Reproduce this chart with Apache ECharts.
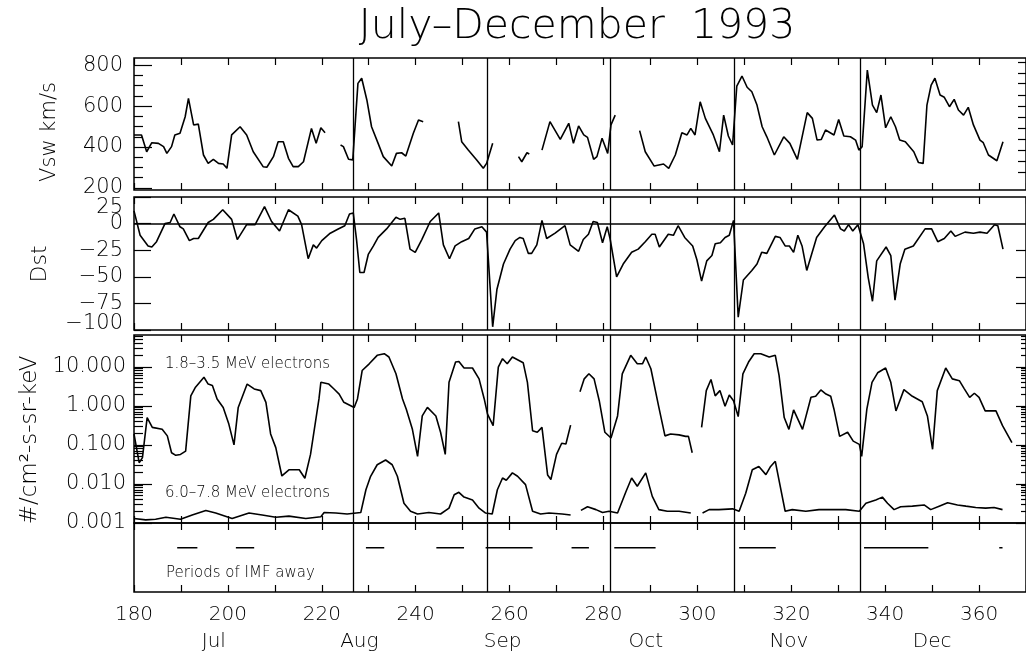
<!DOCTYPE html>
<html><head><meta charset="utf-8">
<script src="https://cdn.jsdelivr.net/npm/echarts@6/dist/echarts.min.js"></script>
<style>html,body{margin:0;padding:0;background:#fff}#c{width:1026px;height:657px}</style>
</head><body><div id="c"></div><script>
// ---------------- data (day of year 1993) ----------------
const vsw = [[180.0,459],[181.6,459],[182.7,377],[183.8,421],[185.2,418],[186.3,402],[187.0,369],[188.0,402],[188.7,459],[189.8,467],[190.9,548],[191.6,638],[192.7,508],[193.7,512],[194.8,361],[195.8,320],[196.9,340],[198.0,320],[199.0,317],[199.8,296],[200.8,459],[202.6,499],[204.0,459],[205.4,377],[207.5,304],[208.3,301],[209.7,353],[210.7,426],[211.8,426],[212.9,345],[213.9,304],[215.0,304],[216.1,328],[217.8,491],[218.8,418],[219.8,494],[220.7,470],[222,null],
[224.0,410],[224.6,402],[225.7,340],[226.6,337],[227.7,711],[228.5,736],[229.6,630],[230.6,499],[232.0,418],[233.1,353],[234.9,307],[235.9,369],[237.0,372],[237.9,356],[239.5,467],[240.6,532],[241.6,524],[245,null],
[249.1,524],[249.8,426],[251.2,385],[253.0,337],[254.4,296],[255.1,320],[256.4,418],[259,null],
[261.9,353],[262.6,328],[263.7,372],[264.2,366],[265,null],
[266.9,385],[268.6,524],[270.8,437],[272.6,516],[273.6,418],[274.7,503],[275.8,459],[276.6,447],[277.9,340],[278.6,353],[279.7,443],[280.9,369],[281.6,508],[282.5,556],[285,null],
[287.7,480],[288.9,377],[290.8,307],[292.8,317],[293.9,296],[295.3,361],[296.7,470],[297.8,459],[298.6,491],[299.5,459],[300.6,621],[301.7,540],[303.4,459],[304.7,377],[305.6,556],[306.6,454],[307.5,410],[308.4,698],[309.5,747],[310.6,692],[311.6,670],[312.7,605],[313.8,499],[314.8,450],[316.4,361],[318.4,450],[319.7,418],[321.3,340],[323.4,568],[324.5,540],[325.5,434],[326.4,437],[327.3,483],[329.1,459],[330.1,535],[331.2,454],[332.6,450],[333.7,434],[334.4,385],[335.1,402],[336.2,776],[337.3,605],[338.2,568],[339.1,654],[340.1,494],[341.2,548],[342.2,499],[343.1,434],[344.3,426],[346.1,377],[347.1,324],[348.1,320],[348.9,605],[349.8,703],[350.6,736],[351.7,654],[352.6,643],[353.7,597],[354.7,633],[355.6,581],[356.7,556],[357.7,594],[358.8,508],[360.2,434],[360.9,421],[362.0,361],[363.8,333],[365.1,426]];

const dst = [[180.0,12],[181.3,-11],[183.0,-21],[183.8,-22],[184.8,-17],[186.6,0],[187.7,1],[188.5,9],[189.8,-3],[190.5,-5],[191.8,-16],[192.7,-14],[193.7,-14],[195.8,1],[196.9,4],[198.9,13],[200.8,4],[202.0,-15],[204.0,-1],[205.8,-1],[207.8,16],[209.3,2],[211.0,-7],[212.9,13],[214.9,7],[215.7,-1],[217.1,-33],[218.2,-20],[218.9,-23],[220.0,-16],[221.8,-9],[223.5,-5],[224.9,-2],[225.9,9],[226.7,10],[227.4,-15],[228.1,-46],[229.0,-46],[229.9,-29],[231.0,-21],[232.0,-13],[233.8,-5],[235.8,6],[236.7,4],[237.7,5],[238.8,-24],[239.9,-27],[241.3,-15],[243.1,2],[244.9,10],[245.9,-20],[247.2,-33],[248.4,-21],[249.8,-17],[251.3,-14],[252.6,-5],[254.1,-3],[255.1,-8],[256.4,-97],[257.3,-62],[258.0,-50],[258.7,-38],[260.1,-24],[261.2,-16],[262.2,-13],[262.9,-14],[264.0,-28],[264.7,-28],[265.8,-20],[266.9,3],[267.9,-14],[269.7,-9],[271.8,-2],[272.9,-20],[274.7,-26],[275.7,-15],[276.8,-10],[277.8,2],[278.7,1],[279.8,-18],[280.8,-3],[281.4,-14],[282.8,-50],[284.2,-38],[286.0,-27],[287.4,-24],[288.9,-17],[290.3,-10],[291.0,-10],[291.9,-22],[293.8,-10],[294.9,-11],[295.9,-2],[297.3,-13],[299.0,-21],[299.9,-34],[300.9,-54],[302.0,-35],[303.1,-30],[303.8,-19],[304.9,-18],[305.9,-13],[306.8,-11],[307.7,3],[308.7,-88],[309.8,-53],[311.6,-44],[312.7,-38],[313.7,-27],[314.8,-28],[316.6,-12],[317.6,-13],[318.7,-21],[319.6,-21],[320.5,-27],[321.4,-11],[322.3,-21],[323.3,-44],[325.4,-13],[327.1,-3],[329.2,8],[330.5,-5],[331.3,-7],[332.2,-1],[333.1,-7],[334.2,-1],[335.4,-19],[336.4,-51],[337.3,-73],[338.2,-35],[340.2,-22],[341.2,-30],[342.1,-72],[343.2,-38],[344.2,-24],[346.0,-21],[348.5,-5],[349.9,-5],[351.2,-17],[352.6,-14],[354.0,-7],[354.9,-12],[357.0,-8],[358.8,-9],[360.2,-8],[361.7,-9],[363.3,-1],[364.0,-2],[365.1,-24]];

const flux18 = [[180.0,0.19],[181.1,0.035],[181.8,0.047],[182.8,0.50],[183.9,0.28],[186.0,0.25],[187.1,0.17],[188.0,0.063],[188.9,0.054],[189.9,0.057],[191.0,0.069],[192.1,1.8],[193.1,3.0],[194.9,5.4],[195.8,3.6],[196.7,3.3],[197.7,1.5],[199.0,0.91],[200.2,0.34],[201.3,0.10],[202.2,0.91],[204.1,3.6],[205.6,2.7],[207.0,2.45],[208.1,1.23],[209.1,0.19],[210.2,0.085],[211.5,0.016],[213.0,0.023],[214.1,0.023],[215.2,0.023],[216.4,0.014],[217.6,0.057],[219.4,1.5],[219.8,4.0],[221.5,3.6],[222.6,2.7],[223.7,2.0],[224.7,1.23],[226.9,0.91],[227.6,1.5],[228.6,8.0],[230.1,11.9],[231.8,19.6],[233.3,21.6],[234.3,17.8],[235.8,6.6],[237.2,1.5],[238.0,0.82],[239.3,0.25],[240.4,0.051],[241.4,0.55],[242.5,0.91],[244.3,0.55],[245.3,0.21],[246.3,0.057],[247.1,4.0],[248.5,13.2],[249.2,13.7],[250.3,9.3],[252.1,9.3],[253.5,4.9],[254.6,1.5],[255.3,0.61],[256.5,0.31],[257.6,9.8],[258.5,16.1],[259.5,11.9],[260.6,17.8],[262.0,14.5],[262.9,12.7],[263.8,4.0],[264.9,0.23],[265.9,0.21],[266.9,0.28],[268.1,0.017],[268.8,0.013],[270.0,0.057],[271.1,0.11],[272.0,0.105],[273.0,0.32],[274,null],
[275.0,2.3],[275.9,4.9],[276.9,6.6],[278.0,4.9],[279.1,1.35],[280.3,0.21],[281.6,0.15],[283.0,0.55],[284.0,6.6],[285.8,19.6],[287.2,11.9],[288.3,11.9],[289.0,17.8],[290.1,8.9],[291.8,0.91],[293.1,0.17],[294.3,0.19],[296.1,0.18],[297.5,0.165],[298.1,0.165],[298.9,0.063],[300,null],
[300.9,0.28],[301.9,2.45],[302.9,4.7],[303.8,1.8],[304.8,2.45],[305.9,0.97],[306.8,1.9],[307.7,1.35],[308.7,0.53],[309.7,6.6],[310.9,13.2],[312.1,21.6],[313.5,21.6],[315.3,17.8],[316.6,19.6],[317.4,6.0],[318.5,0.50],[319.5,0.25],[320.5,0.79],[322.4,0.25],[324.2,1.65],[325.2,1.75],[326.3,2.55],[327.4,2.0],[328.4,1.75],[329.1,0.82],[330.3,0.165],[332.0,0.21],[333.2,0.125],[334.5,0.103],[335.0,0.051],[336.1,0.82],[337.2,4.0],[338.4,7.0],[340.1,9.3],[341.2,4.0],[342.3,0.74],[344.0,2.6],[345.8,1.75],[347.9,1.27],[349.0,0.55],[350.1,0.077],[351.1,2.45],[352.9,9.3],[354.3,4.9],[355.8,4.4],[356.8,2.8],[358.0,1.65],[359.0,2.1],[360.0,1.65],[361.3,0.74],[363.6,0.74],[365.0,0.31],[367.0,0.114]];

const flux60 = [[180.0,0.0013],[182.5,0.0012],[184.6,0.00125],[186.8,0.0014],[189.9,0.00125],[192.4,0.0016],[195.3,0.0021],[197.4,0.0018],[200.9,0.0013],[204.5,0.0018],[207.3,0.0016],[210.2,0.0014],[213.0,0.0015],[216.6,0.0013],[219.8,0.00145],[220.5,0.00185],[223.0,0.0018],[225.4,0.0017],[228.3,0.00185],[228.6,0.002],[229.4,0.0071],[230.4,0.0157],[231.8,0.031],[233.6,0.041],[235.0,0.031],[236.1,0.0157],[237.5,0.0032],[238.9,0.002],[240.4,0.0017],[242.8,0.00185],[245.3,0.0017],[247.1,0.0024],[248.2,0.0053],[249.2,0.0061],[250.3,0.0046],[252.1,0.0039],[253.5,0.0024],[254.9,0.0018],[256.3,0.0017],[257.4,0.0071],[258.5,0.0142],[259.3,0.0124],[260.6,0.0192],[261.7,0.0157],[263.4,0.0096],[264.9,0.002],[266.6,0.0017],[268.4,0.0018],[271.2,0.0017],[273.0,0.0016],[274,null],
[275.2,0.0021],[276.6,0.0026],[278.4,0.0022],[279.8,0.00185],[281.2,0.002],[283.0,0.0018],[284.8,0.0064],[286.0,0.0142],[287.2,0.0087],[289.0,0.0192],[290.4,0.0048],[291.8,0.0022],[293.6,0.002],[296.1,0.002],[298.6,0.0018],[300,null],
[301.1,0.0018],[302.5,0.0022],[304.6,0.0022],[307.5,0.0023],[308.9,0.002],[310.3,0.0058],[311.7,0.023],[313.1,0.028],[314.6,0.0173],[315.6,0.028],[316.6,0.038],[318.7,0.002],[320.2,0.0022],[323.1,0.002],[325.9,0.0022],[328.8,0.0022],[331.6,0.0022],[334.5,0.002],[335.9,0.0032],[338.0,0.0039],[339.4,0.0046],[340.5,0.0032],[341.9,0.0022],[343.3,0.0026],[345.8,0.0027],[348.3,0.0029],[349.7,0.0022],[351.5,0.0027],[353.3,0.0033],[355.4,0.0029],[357.2,0.0027],[359.3,0.0025],[361.4,0.0024],[363.2,0.0025],[365.0,0.0022]];

const imfAway = [[189.2,193.5],[201.7,205.6],[229.4,233.3],[244.4,250.3],[254.9,264.9],[273.2,276.9],[282.3,291.1],[308.9,316.7],[335.5,349.2],[364.3,365.0]];
const rotationDays = [226.6, 255.2, 281.5, 307.8, 334.8];

const monthNames = ['Jul','Aug','Sep','Oct','Nov','Dec'];
const monthCenters = [197, 228, 258.5, 289, 319.5, 350];
const vswTicks = [200, 400, 600, 800];
const vswMinorTicks = [250, 300, 350, 450, 500, 550, 650, 700, 750];
const vswRightTicks = [275, 330, 385, 440, 490, 545, 600, 655, 710, 760, 815];
const dstTicks = [-100, -75, -50, -25, 0, 25];
const dstInnerLabels = [-75, -50, -25, 0];
const fluxTicks = [0.001, 0.01, 0.1, 1, 10];

// ---------------- chart ----------------
const FONT = "'DejaVu Sans', sans-serif";
const FW = 300;
const BLACK = '#000';
const FLUX_MAX = 65;
const IMF_Y = 0.64;
const lg = v => Math.log10(v);

const fluxMinor = [];
fluxTicks.forEach(d => { for (let k = 2; k <= 9; k++) { const v = d * k; if (v <= FLUX_MAX) fluxMinor.push(lg(v)); } });

function xAx(grid, pos, extra) {
  return Object.assign({
    type: 'value', gridIndex: grid, position: pos, min: 180, max: 370, interval: 10,
    axisLine: { show: false, onZero: false },
    axisTick: { show: true, inside: true, length: 7, lineStyle: { color: BLACK, width: 1.2 } },
    axisLabel: { show: false }, splitLine: { show: false }
  }, extra || {});
}
function yAx(grid, pos, min, max, ticks, len, label) {
  return {
    type: 'value', gridIndex: grid, position: pos, min: min, max: max,
    axisLine: { show: false, onZero: false }, splitLine: { show: false },
    axisTick: { show: len > 0, inside: true, length: len, customValues: ticks, lineStyle: { color: BLACK, width: 1.2 } },
    axisLabel: label ? Object.assign({ show: true, customValues: ticks, color: BLACK, fontFamily: FONT, fontWeight: FW, fontSize: 21, margin: 11 }, label) : { show: false }
  };
}
const vLines = (extra) => ({
  silent: true, symbol: ['none', 'none'], label: { show: false }, animation: false,
  lineStyle: { color: BLACK, width: 1.3, type: 'solid' },
  emphasis: { disabled: true },
  data: rotationDays.map(d => ({ xAxis: d })).concat(extra || [])
});
const lineStyle = { color: BLACK, width: 1.6 };

const imfData = [];
imfAway.forEach(s => { imfData.push([s[0], IMF_Y], [s[1], IMF_Y], [s[1] + 0.01, null]); });

const gridBase = { left: 134, right: 0, show: true, borderColor: BLACK, borderWidth: 1.5, backgroundColor: 'transparent', containLabel: false, outerBoundsMode: 'none' };
const dstFmt = v => v < 0 ? '\u2212' + (-v) : String(v);

const option = {
  animation: false,
  backgroundColor: '#fff',
  grid: [
    Object.assign({ top: 58, height: 132 }, gridBase),
    Object.assign({ top: 197, height: 133 }, gridBase),
    Object.assign({ top: 335, height: 188 }, gridBase),
    Object.assign({ top: 523, height: 69 }, gridBase)
  ],
  xAxis: [
    xAx(0, 'bottom'), xAx(0, 'top'),
    xAx(1, 'bottom'), xAx(1, 'top'),
    xAx(2, 'bottom'), xAx(2, 'top'),
    xAx(3, 'bottom', { axisLabel: { show: true, margin: 13, color: BLACK, fontFamily: FONT, fontWeight: FW, fontSize: 20,
      formatter: v => (v % 20 === 0 && v <= 360) ? String(v) : '' } }),
    xAx(3, 'top'),
    { type: 'value', gridIndex: 3, position: 'bottom', offset: 27, min: 180, max: 370,
      axisLine: { show: false, onZero: false }, axisTick: { show: false }, splitLine: { show: false },
      axisLabel: { show: true, customValues: monthCenters, margin: 13, color: BLACK, fontFamily: FONT, fontWeight: FW, fontSize: 20,
        formatter: v => monthNames[monthCenters.indexOf(v)] || '' } }
  ],
  yAxis: [
    yAx(0, 'left', 190, 835, vswTicks, 18, {}),
    yAx(0, 'left', 190, 835, vswMinorTicks, 9, null),
    yAx(0, 'right', 190, 835, vswRightTicks, 8, null),
    Object.assign(yAx(1, 'left', -100, 25, dstTicks, 17, { formatter: dstFmt }), {}),
    yAx(1, 'right', -100, 25, [-75, -50, -25], 10, null),
    yAx(2, 'left', -3, lg(FLUX_MAX), fluxTicks.map(lg), 18, { margin: 8, formatter: v => Math.pow(10, v).toFixed(3) }),
    yAx(2, 'left', -3, lg(FLUX_MAX), fluxMinor, 9, null),
    yAx(2, 'right', -3, lg(FLUX_MAX), fluxTicks.map(lg), 10, null),
    yAx(2, 'right', -3, lg(FLUX_MAX), fluxMinor, 5, null),
    { type: 'value', gridIndex: 3, min: 0, max: 1, show: false },
    // end labels of the Dst axis, nudged inside the panel as in the original
    yAx(1, 'left', -100, 25, [25], 0, { formatter: dstFmt, verticalAlign: 'top', lineHeight: 21 }),
    yAx(1, 'left', -100, 25, [-100], 0, { formatter: dstFmt, verticalAlign: 'bottom', lineHeight: 12 })
  ],
  series: [
    { type: 'line', xAxisIndex: 0, yAxisIndex: 0, data: vsw, showSymbol: false, symbol: 'none', lineStyle: lineStyle, silent: true, markLine: vLines() },
    { type: 'line', xAxisIndex: 2, yAxisIndex: 3, data: dst, showSymbol: false, symbol: 'none', lineStyle: lineStyle, silent: true,
      markLine: vLines([{ yAxis: 0, lineStyle: { color: BLACK, width: 1.5 } }]) },
    { type: 'line', xAxisIndex: 4, yAxisIndex: 5, data: flux18.map(p => [p[0], p[1] == null ? null : lg(p[1])]), showSymbol: false, symbol: 'none', lineStyle: lineStyle, silent: true, markLine: vLines() },
    { type: 'line', xAxisIndex: 4, yAxisIndex: 5, data: flux60.map(p => [p[0], p[1] == null ? null : lg(p[1])]), showSymbol: false, symbol: 'none', lineStyle: lineStyle, silent: true },
    { type: 'line', xAxisIndex: 6, yAxisIndex: 9, data: imfData, showSymbol: false, symbol: 'none', lineStyle: { color: BLACK, width: 1.5 }, silent: true, markLine: vLines() }
  ],
  graphic: [
    { type: 'text', x: 577, y: 27, silent: true, style: { text: 'July\u2013December  1993', fill: BLACK, font: FW + ' 41px ' + FONT, align: 'center', verticalAlign: 'middle' } },
    { type: 'text', x: 50, y: 132, rotation: Math.PI / 2, silent: true, style: { text: 'Vsw km/s', fill: BLACK, font: FW + ' 21px ' + FONT, align: 'center', verticalAlign: 'middle' } },
    { type: 'text', x: 40, y: 264, rotation: Math.PI / 2, silent: true, style: { text: 'Dst', fill: BLACK, font: FW + ' 22px ' + FONT, align: 'center', verticalAlign: 'middle' } },
    { type: 'text', x: 30, y: 440, rotation: Math.PI / 2, silent: true, style: { text: '#/cm\u00b2-s-sr-keV', fill: BLACK, font: FW + ' 23px ' + FONT, align: 'center', verticalAlign: 'middle' } },
    { type: 'text', x: 165, y: 364, silent: true, style: { text: '1.8\u20133.5 MeV electrons', fill: BLACK, font: FW + ' 15px ' + FONT, align: 'left', verticalAlign: 'middle' } },
    { type: 'text', x: 165, y: 493, silent: true, style: { text: '6.0\u20137.8 MeV electrons', fill: BLACK, font: FW + ' 15px ' + FONT, align: 'left', verticalAlign: 'middle' } },
    { type: 'text', x: 166, y: 573, silent: true, style: { text: 'Periods of IMF away', fill: BLACK, font: FW + ' 15px ' + FONT, align: 'left', verticalAlign: 'middle' } }
  ]
};
// main Dst axis shows only the inner labels; the two end labels come from the extra axes
option.yAxis[3].axisLabel.customValues = dstInnerLabels;

const chart = echarts.init(document.getElementById('c'), null, { renderer: 'canvas' });
chart.setOption(option);
</script></body></html>
